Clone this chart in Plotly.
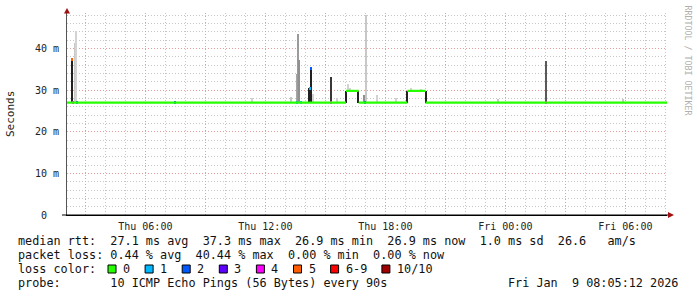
import plotly.graph_objects as go
import pandas as pd

# ---------------- data ----------------
t_start = "2026-01-08 02:05:00"
t_end = "2026-01-09 08:05:00"

# median rtt (ms) as a step function: level i holds from change_times[i] to change_times[i+1]
median_change_times = ["2026-01-08 02:05:00", "2026-01-08 16:02:00", "2026-01-08 16:40:00",
                       "2026-01-08 19:06:00", "2026-01-08 20:01:00", "2026-01-09 08:05:00"]
median_levels = [27.0, 29.8, 27.0, 29.8, 27.0]

# smoke (ping spread) spikes
smoke_times = ["2026-01-08 02:21:30", "2026-01-08 02:30:00", "2026-01-08 02:33:30",
               "2026-01-08 11:20:00", "2026-01-08 13:17:00", "2026-01-08 13:36:30",
               "2026-01-08 13:39:30", "2026-01-08 13:42:30", "2026-01-08 14:11:00",
               "2026-01-08 14:17:00", "2026-01-08 14:23:00", "2026-01-08 15:17:00",
               "2026-01-08 15:35:00", "2026-01-08 16:02:00", "2026-01-08 16:09:30",
               "2026-01-08 16:14:00", "2026-01-08 16:39:30", "2026-01-08 16:57:30",
               "2026-01-08 17:02:00", "2026-01-08 17:35:00", "2026-01-08 18:32:00",
               "2026-01-08 19:06:00", "2026-01-08 19:17:00", "2026-01-08 19:47:00",
               "2026-01-08 20:01:00", "2026-01-08 23:38:00", "2026-01-09 02:02:00",
               "2026-01-09 05:53:00"]
smoke_low = [27.0, 27.0, 27.0, 27.0, 27.0, 27.0, 27.0, 27.0, 27.0, 27.0, 27.0, 27.0,
             27.0, 27.0, 29.8, 29.8, 27.0, 27.0, 27.0, 27.0, 27.0, 27.0, 29.8, 29.8,
             27.0, 27.0, 27.0, 27.0]
smoke_high = [37.4, 41.3, 44.1, 28.0, 28.3, 33.8, 43.4, 37.2, 30.4, 35.3, 29.0, 33.2,
              28.0, 29.8, 31.4, 30.5, 29.8, 28.8, 48.0, 28.8, 28.0, 29.8, 30.4, 30.3,
              29.8, 27.8, 37.0, 27.8]
smoke_density = [1.0, 0.25, 0.2, 0.2, 0.25, 0.4, 0.45, 0.5, 1.0, 1.0, 0.2, 0.9,
                 0.2, 1.0, 0.2, 0.2, 1.0, 0.5, 0.25, 0.2, 0.2, 1.0, 0.2, 0.2,
                 1.0, 0.25, 0.75, 0.25]

# packet loss events (lost pings out of 10) drawn on the median
loss_times = ["2026-01-08 02:21:30", "2026-01-08 02:24:30", "2026-01-08 02:35:00",
              "2026-01-08 07:29:00", "2026-01-08 13:36:30", "2026-01-08 13:49:00",
              "2026-01-08 14:14:00", "2026-01-08 14:17:00", "2026-01-08 15:17:00",
              "2026-01-08 16:59:00", "2026-01-09 02:02:00"]
loss_rtt = [37.4, 27.0, 27.0, 27.0, 27.0, 27.0, 30.4, 35.3, 27.0, 27.0, 27.0]
loss_count = [5, 4, 2, 2, 1, 1, 1, 2, 4, 2, 4]

x_tick_times = ["2026-01-08 06:00", "2026-01-08 12:00", "2026-01-08 18:00",
                "2026-01-09 00:00", "2026-01-09 06:00"]
x_tick_labels = ["Thu 06:00", "Thu 12:00", "Thu 18:00", "Fri 00:00", "Fri 06:00"]
x_major_grid = ["2026-01-08 03:00", "2026-01-08 09:00", "2026-01-08 15:00",
                "2026-01-08 21:00", "2026-01-09 03:00"]
y_tick_vals = [0, 10, 20, 30, 40]
y_tick_labels = ["0\u00a0\u00a0", "10 m", "20 m", "30 m", "40 m"]

legend_loss_labels = ["0", "1", "2", "3", "4", "5", "6-9", "10/10"]
legend_loss_colors = ["#26ff00", "#00b8ff", "#0059ff", "#5e00ff", "#ff00ff",
                      "#ff5e00", "#ff0000", "#a00000"]

stats_line1 = "median rtt:  27.1 ms avg  37.3 ms max  26.9 ms min  26.9 ms now  1.0 ms sd  26.6   am/s"
stats_line2 = "packet loss: 0.44 % avg  40.44 % max  0.00 % min  0.00 % now"
probe_line = "probe:       10 ICMP Echo Pings (56 Bytes) every 90s"
stamp = "Fri Jan  9 08:05:12 2026"

# ---------------- helpers ----------------
PX_MS = 180000  # one pixel = 3 minutes
FONT = "DejaVu Sans Mono"
L, R, T, B = 67, 30, 13, 82
W, H = 697, 297
PW, PH = W - L - R, H - T - B
CHAR = 7.1
LEG_SIZE = 11.8


def px(x):
    return (x - L) / PW


def py(y):
    return (H - B - y) / PH


def loss_color(n):
    if n <= 5:
        return legend_loss_colors[n]
    if n < 10:
        return legend_loss_colors[6]
    return legend_loss_colors[7]


def gray(d):
    g = int(round(255 * (1 - 0.87 * d)))
    return f"rgb({g},{g},{g})"


fig = go.Figure()

# smoke
fig.add_trace(go.Bar(
    x=pd.to_datetime(smoke_times),
    y=[h - l for h, l in zip(smoke_high, smoke_low)],
    base=smoke_low,
    width=[1.3 * PX_MS] * len(smoke_times),
    marker=dict(color=[gray(d) for d in smoke_density], line=dict(width=0)),
    hoverinfo="skip", showlegend=False,
))

# median line segments
mx, my = [], []
for i, v in enumerate(median_levels):
    mx += [pd.Timestamp(median_change_times[i]), pd.Timestamp(median_change_times[i + 1]), None]
    my += [v, v, None]
fig.add_trace(go.Scatter(x=mx, y=my, mode="lines",
                         line=dict(color=legend_loss_colors[0], width=2.2),
                         hoverinfo="skip", showlegend=False))

# loss-coloured marks
fig.add_trace(go.Bar(
    x=pd.to_datetime(loss_times),
    y=[0.7] * len(loss_times),
    base=[r - 0.4 for r in loss_rtt],
    width=[1.5 * PX_MS] * len(loss_times),
    marker=dict(color=[loss_color(n) for n in loss_count], line=dict(width=0)),
    hoverinfo="skip", showlegend=False,
))

# ---------------- layout ----------------
grid_major = "#e89c9c"
grid_minor = "#c6c6c6"
DASH = "1px,2px"

fig.update_layout(
    width=W, height=H,
    margin=dict(l=L, r=R, t=T, b=B, pad=0),
    paper_bgcolor="white", plot_bgcolor="white",
    barmode="overlay", bargap=0,
    font=dict(family=FONT, size=10, color="#222"),
    xaxis=dict(
        type="date", range=[t_start, t_end],
        tickmode="array",
        tickvals=x_tick_times + x_major_grid,
        ticktext=x_tick_labels + [""] * len(x_major_grid),
        showgrid=True, gridcolor=grid_major, griddash=DASH, gridwidth=1,
        minor=dict(dtick=3600000, tick0="2026-01-08 00:00", showgrid=True,
                   gridcolor=grid_minor, griddash=DASH, gridwidth=1),
        showline=True, linecolor="black", linewidth=1,
        ticks="", ticklabelstandoff=2,
        tickfont=dict(family=FONT, size=10, color="#222"),
        zeroline=False, fixedrange=True,
    ),
    yaxis=dict(
        range=[0, 48.5],
        tickmode="array", tickvals=y_tick_vals, ticktext=y_tick_labels,
        showgrid=True, gridcolor=grid_major, griddash=DASH, gridwidth=1,
        minor=dict(dtick=2, tick0=0, showgrid=True,
                   gridcolor=grid_minor, griddash=DASH, gridwidth=1),
        showline=True, linecolor="#555", linewidth=1,
        ticks="", ticklabelstandoff=5,
        tickfont=dict(family=FONT, size=10, color="#222"),
        zeroline=False, fixedrange=True,
    ),
)

shapes = []
# arrows
arrow_col = "#a01010"
shapes.append(dict(type="path", xref="paper", yref="paper",
                   path=f"M {px(67)} {py(8)} L {px(64)} {py(13.5)} L {px(70)} {py(13.5)} Z",
                   fillcolor=arrow_col, line=dict(width=0)))
shapes.append(dict(type="path", xref="paper", yref="paper",
                   path=f"M {px(674)} {py(215)} L {px(668)} {py(212)} L {px(668)} {py(218)} Z",
                   fillcolor=arrow_col, line=dict(width=0)))
# x axis extension to the arrow
shapes.append(dict(type="line", xref="paper", yref="paper",
                   x0=px(62), x1=px(668), y0=0, y1=0, line=dict(color="black", width=1)))

annotations = []


def text(x, y, s, anchor="left", size=LEG_SIZE, color="#111", angle=0):
    annotations.append(dict(xref="paper", yref="paper", x=px(x), y=py(y), text=s,
                            showarrow=False, xanchor=anchor, yanchor="middle",
                            textangle=angle,
                            font=dict(family=FONT, size=size, color=color)))


text(16, 241, stats_line1.replace(" ", "\u00a0"))
text(16, 255, stats_line2.replace(" ", "\u00a0"))
text(16, 269, "loss\u00a0color:")
text(16, 283, probe_line.replace(" ", "\u00a0"))
text(680, 283, stamp.replace(" ", "\u00a0"), anchor="right")

# legend boxes
bx = 108
for lab, col in zip(legend_loss_labels, legend_loss_colors):
    shapes.append(dict(type="rect", xref="paper", yref="paper",
                       x0=px(bx), x1=px(bx + 8), y0=py(273), y1=py(265),
                       fillcolor=col, line=dict(color="black", width=1)))
    text(bx + 13, 269, lab)
    bx = bx + 13 + CHAR * len(lab) + 17

# y title
annotations.append(dict(xref="paper", yref="paper", x=px(10), y=py(114), text="Seconds",
                        showarrow=False, xanchor="center", yanchor="middle", textangle=-90,
                        font=dict(family=FONT, size=11, color="#222")))
# rrdtool credit
annotations.append(dict(xref="paper", yref="paper", x=px(687.5), y=py(60),
                        text="RRDTOOL\u00a0/\u00a0TOBI\u00a0OETIKER",
                        showarrow=False, xanchor="center", yanchor="middle", textangle=90,
                        font=dict(family=FONT, size=8.3, color="#b0b0b0")))

fig.update_layout(shapes=shapes, annotations=annotations)
fig.write_html("out.html")
